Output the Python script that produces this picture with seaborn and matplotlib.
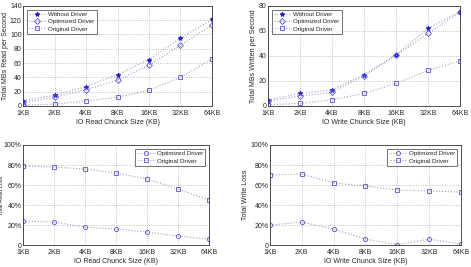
import pandas as pd
import matplotlib
matplotlib.use('Agg')
import matplotlib.pyplot as plt
import seaborn as sns

chunk_sizes = ['1KB', '2KB', '4KB', '8KB', '16KB', '32KB', '64KB']

read_without = [7.5, 15, 27, 44, 65, 95, 121]
read_optimized = [5, 12, 23, 36, 57, 85, 113]
read_original = [1, 2.5, 7, 12, 22, 40, 66]

write_without = [5, 10, 13, 25, 41, 62, 75.5]
write_optimized = [4, 8, 11, 24, 40.5, 58, 75]
write_original = [1, 2, 5, 10, 18, 28.5, 36]

read_loss_optimized = [24, 23, 18, 16, 13, 9, 6]
read_loss_original = [79, 78, 76, 72, 66, 56, 45]

write_loss_optimized = [20, 23, 16, 6, 0.5, 6, 1]
write_loss_original = [70, 71, 62, 59, 55, 54, 53]

sns.set_style('white')
plt.rcParams['font.family'] = ['Liberation Sans', 'DejaVu Sans']

LINE = '#a0a0c8'
STAR = '#2222cc'
HOLLOW = '#5a4fd8'
FS = 5


def draw(ax, series, ylim, yticks, yticklabels, xlabel, ylabel, legend_loc):
    x = list(range(len(chunk_sizes)))
    for name, vals, marker in series:
        df = pd.DataFrame({'x': x, 'y': vals})
        if marker == '*':
            kw = dict(markerfacecolor=STAR, markeredgecolor=STAR, markersize=3.2)
        else:
            kw = dict(markerfacecolor='none', markeredgecolor=HOLLOW, markersize=3, markeredgewidth=0.6)
        sns.lineplot(data=df, x='x', y='y', ax=ax, color=LINE, linestyle=':',
                     linewidth=0.8, marker=marker, label=name, **kw)
    ax.set_xlim(0, len(chunk_sizes) - 1)
    ax.set_ylim(*ylim)
    ax.set_xticks(x)
    ax.set_xticklabels(chunk_sizes)
    ax.set_yticks(yticks)
    ax.set_yticklabels(yticklabels)
    ax.tick_params(labelsize=FS, length=2, width=0.5, pad=1, direction='in')
    ax.tick_params(axis='x', pad=3)
    ax.grid(True, linestyle=':', color='#b0b0b0', linewidth=0.6)
    for s in ax.spines.values():
        s.set_linewidth(0.6)
        s.set_color('#333333')
    ax.set_xlabel(xlabel, fontsize=FS, labelpad=1)
    ax.set_ylabel(ylabel, fontsize=FS, labelpad=1)
    leg = ax.legend(loc=legend_loc, fontsize=4.5, frameon=True, fancybox=False,
                    handlelength=2.6, handletextpad=0.5, borderpad=0.35,
                    labelspacing=0.3, borderaxespad=0.6)
    leg.get_frame().set_edgecolor('#333333')
    leg.get_frame().set_linewidth(0.6)


fig = plt.figure(figsize=(4.71, 2.67), dpi=100)
ax1 = fig.add_axes([0.049, 0.603, 0.401, 0.375])
ax2 = fig.add_axes([0.569, 0.603, 0.408, 0.375])
ax3 = fig.add_axes([0.049, 0.082, 0.395, 0.375])
ax4 = fig.add_axes([0.573, 0.082, 0.406, 0.375])

draw(ax1, [('Without Driver', read_without, '*'),
           ('Optimized Driver', read_optimized, 'D'),
           ('Original Driver', read_original, 's')],
     (0, 140), range(0, 141, 20), [str(v) for v in range(0, 141, 20)],
     'IO Read Chunck Size (KB)', 'Total MBs Read per Second', 'upper left')

draw(ax2, [('Without Driver', write_without, '*'),
           ('Optimized Driver', write_optimized, 'D'),
           ('Original Driver', write_original, 's')],
     (0, 80), range(0, 81, 20), [str(v) for v in range(0, 81, 20)],
     'IO Write Chunck Size (KB)', 'Total MBs Written per Second', 'upper left')

pct = ['0', '20%', '40%', '60%', '80%', '100%']
draw(ax3, [('Optimized Driver', read_loss_optimized, 'o'),
           ('Original Driver', read_loss_original, 's')],
     (0, 100), range(0, 101, 20), pct,
     'IO Read Chunck Size (KB)', 'Total Read Loss', 'upper right')
ax3.yaxis.label.set_fontsize(4)
ax3.yaxis.set_label_coords(-0.103, 0.5)

draw(ax4, [('Optimized Driver', write_loss_optimized, 'o'),
           ('Original Driver', write_loss_original, 's')],
     (0, 100), range(0, 101, 20), pct,
     'IO Write Chunck Size (KB)', 'Total Write Loss', 'upper right')

fig.savefig('out.png', dpi=100)
